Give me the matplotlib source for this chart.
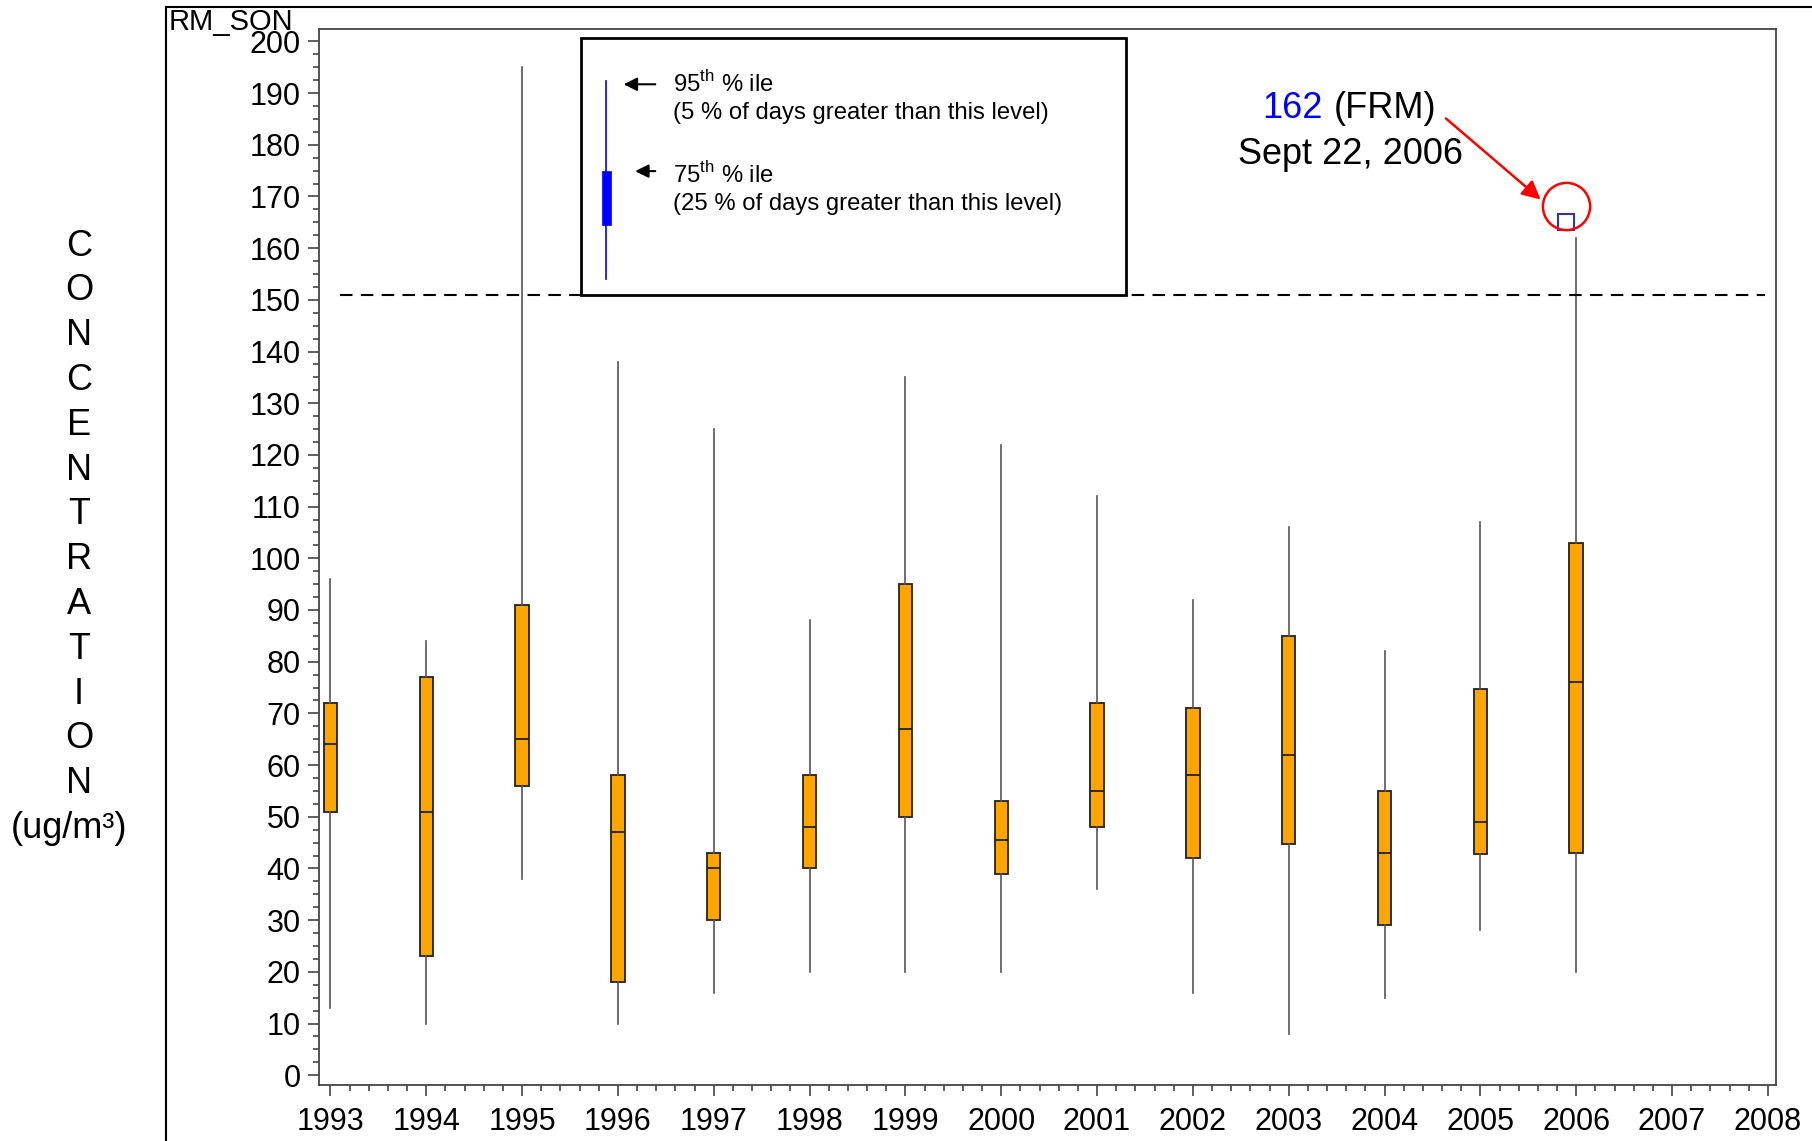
import numpy as np
import matplotlib
matplotlib.use("Agg")
import matplotlib.pyplot as plt
from matplotlib.lines import Line2D
from matplotlib.patches import Rectangle
from matplotlib.ticker import MultipleLocator

# yearly distribution values
years = [1993, 1994, 1995, 1996, 1997, 1998, 1999, 2000, 2001, 2002, 2003, 2004, 2005, 2006]
p05 = [13, 10, 38, 10, 16, 20, 20, 20, 36, 16, 8, 15, 28, 20]
p25 = [51, 23, 56, 18, 30, 40, 50, 39, 48, 42, 44.7, 29, 42.7, 43]
p50 = [64, 51, 65, 47, 40, 48, 67, 45.6, 55, 58, 62, 43, 49, 76]
p75 = [72, 77, 91, 58, 43, 58, 95, 53, 72, 71, 85, 55, 74.7, 103]
p95 = [96, 84, 195, 138, 125, 88, 135, 122, 112, 92, 106, 82, 107, 162]

standard = 151
frm_year = 2005.89
frm_value = 165

plt.rcParams["font.family"] = ["Liberation Sans", "DejaVu Sans"]
plt.rcParams["mathtext.fontset"] = "custom"
plt.rcParams["mathtext.rm"] = "Liberation Sans"

fig = plt.figure(figsize=(18.12, 11.41), dpi=100)
ax = fig.add_axes([0.1760, 0.0495, 0.8044, 0.9251])

stats = []
for i in range(len(years)):
    stats.append(dict(med=p50[i], q1=p25[i], q3=p75[i],
                      whislo=p05[i], whishi=p95[i], fliers=[]))

ax.bxp(stats, positions=years, widths=0.14, patch_artist=True,
       showcaps=False, manage_ticks=False,
       boxprops=dict(facecolor="#FFA500", edgecolor="#222222", linewidth=1.3),
       medianprops=dict(color="#222222", linewidth=1.3),
       whiskerprops=dict(color="#555555", linewidth=1.2))

# outlier day
ax.plot([frm_year], [frm_value], marker="s", ms=12, mfc="white",
        mec="#3333aa", mew=1.5, ls="none", zorder=5)
ax.plot([frm_year], [168.2], marker="o", ms=34, mfc="none",
        mec="red", mew=1.8, ls="none", zorder=5)
ax.annotate("", xy=(2005.63, 169.4), xytext=(2004.64, 185.1),
            arrowprops=dict(arrowstyle="-|>", color="red", lw=1.8,
                            mutation_scale=28, shrinkA=0, shrinkB=0))
ax.text(2003.35, 187.0, "162", color="blue", fontsize=26, ha="right", va="center")
ax.text(2003.47, 187.0, "(FRM)", color="black", fontsize=26, ha="left", va="center")
ax.text(2003.64, 178.1, "Sept 22, 2006", color="black", fontsize=26, ha="center", va="center")

# standard line
ax.hlines(standard, 1993.1, 2007.97, colors="black", linestyles=(0, (6, 4)), lw=1.5, zorder=2)

# key box
ax.add_patch(Rectangle((1995.61, 150.9), 5.69, 49.8, facecolor="white",
                       edgecolor="black", lw=2, zorder=6))
ax.plot([1995.88, 1995.88], [154.1, 192.4], color="blue", lw=1.2, zorder=7)
ax.add_patch(Rectangle((1995.83, 164.4), 0.1, 10.6, facecolor="blue",
                       edgecolor="blue", lw=0.5, zorder=7))
ax.annotate("", xy=(1996.06, 191.7), xytext=(1996.39, 191.7),
            arrowprops=dict(arrowstyle="-|>", color="black", lw=1.5,
                            mutation_scale=20, shrinkA=0, shrinkB=0), zorder=8)
ax.annotate("", xy=(1996.18, 174.9), xytext=(1996.39, 174.9),
            arrowprops=dict(arrowstyle="-|>", color="black", lw=1.5,
                            mutation_scale=20, shrinkA=0, shrinkB=0), zorder=8)
key_texts = [(191.8, r"95$^{\rm th}$ % ile"),
             (186.2, "(5 % of days greater than this level)"),
             (174.1, r"75$^{\rm th}$ % ile"),
             (168.5, "(25 % of days greater than this level)")]
for yv, s in key_texts:
    ax.text(1996.58, yv, s, fontsize=17.2, ha="left", va="center", zorder=8)

ax.set_xlim(1992.88, 2008.09)
ax.set_ylim(-1.8, 202.4)
ax.set_xticks(range(1993, 2009))
ax.set_yticks(range(0, 201, 10))
ax.xaxis.set_minor_locator(MultipleLocator(0.2))
ax.yaxis.set_minor_locator(MultipleLocator(2.5))
ax.tick_params(which="major", length=8, width=1.2, color="#444444", labelsize=22)
ax.tick_params(which="minor", length=4.5, width=1.2, color="#444444")
ax.tick_params(axis="x", pad=8)
ax.tick_params(axis="y", pad=5)
for sp in ax.spines.values():
    sp.set_color("#444444")
    sp.set_linewidth(1.3)

# y label written as stacked letters
letters = "CONCENTRATION"
for k, ch in enumerate(letters):
    fig.text(0.0436, 1 - (246 + k * 44.8) / 1141, ch, fontsize=26,
             ha="center", va="center")
fig.text(0.038, 1 - 828 / 1141, "(ug/m\u00b3)", fontsize=26, ha="center", va="center")

fig.text(0.0933, 1 - 8 / 1141, "RM_SON", fontsize=21, ha="left", va="top")

# page frame
fig.add_artist(Line2D([0.0916, 1], [1 - 7 / 1141, 1 - 7 / 1141], color="black", lw=1.5))
fig.add_artist(Line2D([0.0916, 0.0916], [0, 1 - 7 / 1141], color="black", lw=1.5))

fig.savefig("out.png", dpi=100)
